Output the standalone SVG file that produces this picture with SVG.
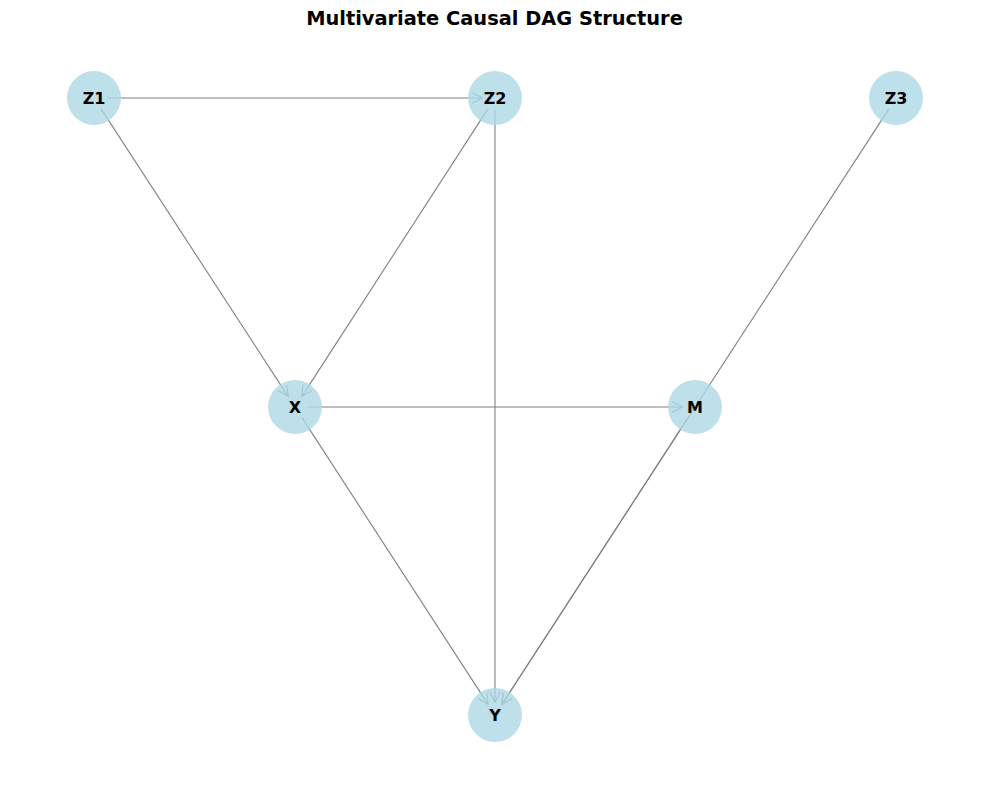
<svg xmlns="http://www.w3.org/2000/svg" width="989" height="790" viewBox="0 0 989 790">
<style>
.edge{stroke:#808080;stroke-width:1.1;fill:none;marker-end:url(#arr)}
.node circle{fill:#add8e6;fill-opacity:0.8}
.node text{font-family:"DejaVu Sans",sans-serif;font-weight:bold;font-size:16px;text-anchor:middle;dominant-baseline:central;fill:#000}
.title{font-family:"DejaVu Sans",sans-serif;font-weight:bold;font-size:19.4px;text-anchor:middle;fill:#000}
</style>
<defs>
<marker id="arr" markerUnits="userSpaceOnUse" markerWidth="15" markerHeight="13" viewBox="-1 -6.5 13 13" refX="10" refY="0" orient="auto">
<path d="M0,-5.2 L10.5,0 L0,5.2" fill="none" stroke="#808080" stroke-width="1.1"/>
</marker>
</defs>
<rect width="989" height="790" fill="#fff"/>
<text class="title" x="494.5" y="25">Multivariate Causal DAG Structure</text>
<g id="edges">
<line class="edge" x1="107" y1="98" x2="482" y2="98"/>
<line class="edge" x1="101.1" y1="108.9" x2="287.9" y2="396.1"/>
<line class="edge" x1="487.9" y1="108.9" x2="302.1" y2="396.1"/>
<line class="edge" x1="495" y1="111" x2="495" y2="702"/>
<line class="edge" x1="888.9" y1="108.9" x2="502.1" y2="704.1"/>
<line class="edge" x1="308" y1="407" x2="682" y2="407"/>
<line class="edge" x1="302.1" y1="417.9" x2="487.9" y2="704.1"/>
<line class="edge" x1="687.9" y1="417.9" x2="502.1" y2="704.1"/>
</g>
<g id="Z1" class="node"><circle cx="94" cy="98" r="27"/><text x="94" y="98">Z1</text></g>
<g id="Z2" class="node"><circle cx="495" cy="98" r="27"/><text x="495" y="98">Z2</text></g>
<g id="Z3" class="node"><circle cx="896" cy="98" r="27"/><text x="896" y="98">Z3</text></g>
<g id="X" class="node"><circle cx="295" cy="407" r="27"/><text x="295" y="407">X</text></g>
<g id="M" class="node"><circle cx="695" cy="407" r="27"/><text x="695" y="407">M</text></g>
<g id="Y" class="node"><circle cx="495" cy="715" r="27"/><text x="495" y="715">Y</text></g>
</svg>
